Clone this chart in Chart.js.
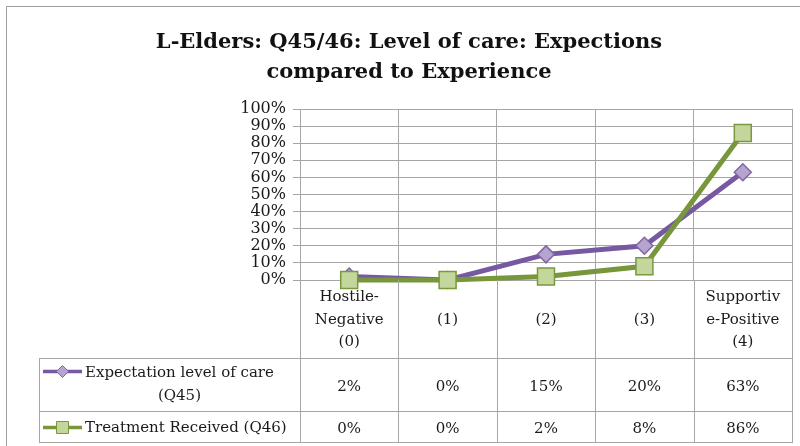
<!DOCTYPE html>
<html>
<head>
<meta charset="utf-8">
<script src="https://cdn.jsdelivr.net/npm/chart.js@4/dist/chart.umd.min.js"></script>
<style>
  html, body { margin: 0; padding: 0; background: #fff; }
  #wrap { width: 800px; height: 446px; }
</style>
</head>
<body>
<div id="wrap"><canvas id="chart" width="800" height="446"></canvas></div>
<script>
const categories = [['Hostile-', 'Negative', '(0)'], ['(1)'], ['(2)'], ['(3)'], ['Supportiv', 'e-Positive', '(4)']];
const seriesNames = [['Expectation level of care', '(Q45)'], ['Treatment Received (Q46)']];
const expectation = [2, 0, 15, 20, 63];
const treatment = [0, 0, 2, 8, 86];
const yTicks = [0, 10, 20, 30, 40, 50, 60, 70, 80, 90, 100];

const SERIF = '"DejaVu Serif", serif';
const gridColor = '#a6a6a6';
const purple = '#7659a0', purpleFill = '#b5a4cf', purpleEdge = '#8066a3';
const green = '#78963b', greenFill = '#c3d69b', greenEdge = '#7a983e';
const padLeft = 26;

// frame around the chart (cut off at right/bottom like the reference)
const framePlugin = {
    id: 'frame',
    beforeDraw(chart) {
        const ctx = chart.ctx;
        ctx.save();
        ctx.strokeStyle = '#a0a0a0';
        ctx.lineWidth = 1;
        ctx.strokeRect(6.5, 6.5, 820, 460);
        ctx.restore();
    }
};

// data table under the plot, columns taken from the x scale
const tablePlugin = {
    id: 'dataTable',
    afterDraw(chart) {
        const ctx = chart.ctx;
        const x = chart.scales.x;
        const top = chart.chartArea.bottom;
        const n = categories.length;
        const colW = (x.right - x.left) / n;
        const edges = [];
        for (let i = 0; i <= n; i++) edges.push(x.left + i * colW);
        const rows = [top, 358, 411, 442];
        const legendLeft = 39;

        ctx.save();
        ctx.strokeStyle = gridColor;
        ctx.lineWidth = 1;
        ctx.beginPath();
        edges.forEach(e => {
            ctx.moveTo(Math.round(e) + 0.5, top);
            ctx.lineTo(Math.round(e) + 0.5, rows[3]);
        });
        ctx.moveTo(legendLeft + 0.5, rows[1]);
        ctx.lineTo(legendLeft + 0.5, rows[3]);
        for (let r = 1; r < rows.length; r++) {
            ctx.moveTo(legendLeft, rows[r] + 0.5);
            ctx.lineTo(Math.round(edges[n]) + 1, rows[r] + 0.5);
        }
        ctx.stroke();

        ctx.fillStyle = '#1a1a1a';
        ctx.font = '15px ' + SERIF;
        ctx.textAlign = 'center';
        ctx.textBaseline = 'middle';
        const lh = 22.5;

        // category header row
        categories.forEach((lines, i) => {
            const cx = x.getPixelForValue(i);
            const mid = (rows[0] + rows[1]) / 2 + 1;
            lines.forEach((t, k) => {
                ctx.fillText(t, cx, mid + (k - (lines.length - 1) / 2) * lh);
            });
        });

        // value rows
        [expectation, treatment].forEach((vals, r) => {
            const mid = (rows[r + 1] + rows[r + 2]) / 2 + 3;
            vals.forEach((v, i) => {
                ctx.fillText(v + '%', x.getPixelForValue(i), mid);
            });
        });

        // legend cells
        const keys = [
            { line: purple, fill: purpleFill, edge: purpleEdge, shape: 'diamond' },
            { line: green, fill: greenFill, edge: greenEdge, shape: 'square' }
        ];
        keys.forEach((k, r) => {
            const names = seriesNames[r];
            const rowMid = (rows[r + 1] + rows[r + 2]) / 2;
            const firstY = rowMid - (names.length - 1) * lh / 2 - (names.length > 1 ? 2 : 0);
            const sy = Math.round(firstY) + 0.5;
            ctx.strokeStyle = k.line;
            ctx.lineWidth = 3.5;
            ctx.beginPath();
            ctx.moveTo(43, sy);
            ctx.lineTo(82, sy);
            ctx.stroke();
            ctx.fillStyle = k.fill;
            ctx.strokeStyle = k.edge;
            ctx.lineWidth = 1;
            ctx.beginPath();
            if (k.shape === 'diamond') {
                ctx.moveTo(62.5, sy - 6);
                ctx.lineTo(68.5, sy);
                ctx.lineTo(62.5, sy + 6);
                ctx.lineTo(56.5, sy);
                ctx.closePath();
            } else {
                ctx.rect(56.5, sy - 6, 12, 12);
            }
            ctx.fill();
            ctx.stroke();

            ctx.fillStyle = '#1a1a1a';
            ctx.textAlign = 'left';
            const w = ctx.measureText(names[0]).width;
            ctx.fillText(names[0], 85, firstY + 2);
            ctx.textAlign = 'center';
            for (let j = 1; j < names.length; j++) {
                ctx.fillText(names[j], 85 + w / 2, firstY + 2 + j * lh);
            }
        });
        ctx.restore();
    }
};

new Chart(document.getElementById('chart'), {
    type: 'line',
    data: {
        labels: categories,
        datasets: [
            {
                label: seriesNames[0].join(' '),
                data: expectation,
                borderColor: purple,
                borderWidth: 5,
                pointStyle: 'rectRot',
                pointRadius: 8.5,
                pointBackgroundColor: purpleFill,
                pointBorderColor: purpleEdge,
                pointBorderWidth: 1.5,
                tension: 0,
                clip: false,
                order: 2
            },
            {
                label: seriesNames[1].join(' '),
                data: treatment,
                borderColor: green,
                borderWidth: 5,
                pointStyle: 'rect',
                pointRadius: 12,
                pointBackgroundColor: greenFill,
                pointBorderColor: greenEdge,
                pointBorderWidth: 1.5,
                tension: 0,
                clip: false,
                order: 1
            }
        ]
    },
    options: {
        responsive: false,
        animation: false,
        devicePixelRatio: 1,
        layout: { autoPadding: false, padding: { left: padLeft, right: 8, top: 3, bottom: 0 } },
        plugins: {
            legend: { display: false },
            tooltip: { enabled: false },
            title: {
                display: true,
                text: ['L-Elders: Q45/46: Level of care: Expections', 'compared to Experience'],
                color: '#111',
                font: { family: SERIF, size: 21, weight: 'bold', lineHeight: 1.43 },
                padding: { top: 25, bottom: 21 }
            }
        },
        scales: {
            x: {
                offset: true,
                grid: { offset: true, color: gridColor, drawTicks: false },
                border: { color: gridColor },
                ticks: { display: false },
                afterFit(s) { s.height = 166; }
            },
            y: {
                min: yTicks[0],
                max: yTicks[yTicks.length - 1],
                afterBuildTicks(s) { s.ticks = yTicks.map(v => ({ value: v })); },
                grid: { color: gridColor, tickLength: 7 },
                border: { color: gridColor },
                ticks: {
                    color: '#1a1a1a',
                    padding: 7,
                    autoSkip: false,
                    font: { family: SERIF, size: 16 },
                    callback: v => v + '%'
                },
                afterFit(s) { s.width = 300 - padLeft; }
            }
        }
    },
    plugins: [framePlugin, tablePlugin]
});
</script>
</body>
</html>
